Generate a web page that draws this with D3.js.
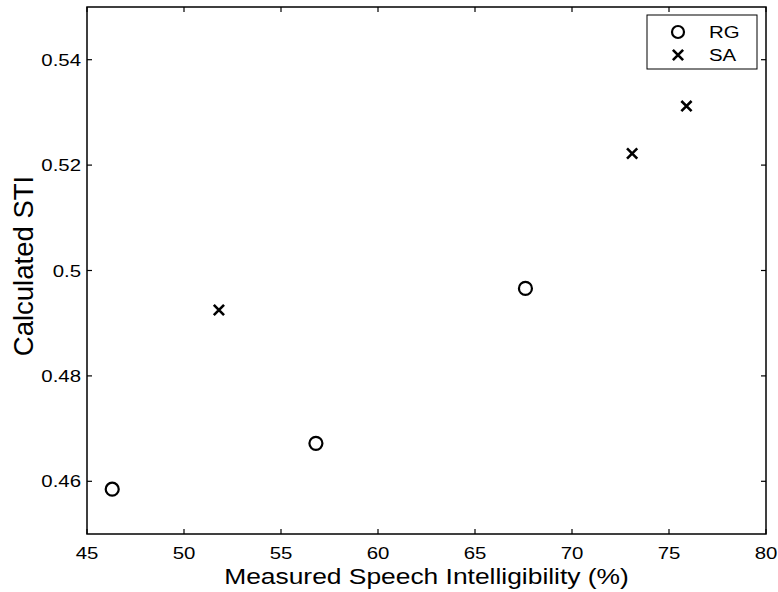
<!DOCTYPE html>
<html>
<head>
<meta charset="utf-8">
<script src="https://cdn.jsdelivr.net/npm/d3@7"></script>
<style>
  body { margin: 0; background: #fff; }
  text { font-family: "Liberation Sans", Arial, Helvetica, sans-serif; fill: #000; }
</style>
</head>
<body>
<div id="chart"></div>
<script>
// Data
const rgX = [46.3, 56.8, 67.6];
const rgY = [0.4585, 0.4672, 0.4966];
const saX = [51.8, 73.1, 75.9];
const saY = [0.4925, 0.5222, 0.5312];
const xTicks = [45, 50, 55, 60, 65, 70, 75, 80];
const yTicks = [0.46, 0.48, 0.5, 0.52, 0.54];
const yTickLabels = ['0.46', '0.48', '0.5', '0.52', '0.54'];

const width = 778, height = 592;
const margin = { top: 7, right: 12, bottom: 58, left: 87 };
const stretch = 1.2; // reference text looks horizontally widened

const svg = d3.select('#chart').append('svg')
    .attr('width', width)
    .attr('height', height);

const x = d3.scaleLinear().domain([45, 80]).range([margin.left, width - margin.right]);
const y = d3.scaleLinear().domain([0.45, 0.55]).range([height - margin.bottom, margin.top]);

const x0 = x.range()[0], x1 = x.range()[1];
const y0 = y.range()[0], y1 = y.range()[1];

// helper for horizontally stretched text
function label(g, tx, ty, str, size, anchor) {
    g.append('text')
        .attr('transform', `translate(${tx},${ty}) scale(${stretch},1)`)
        .attr('text-anchor', anchor)
        .style('font-size', size + 'px')
        .text(str);
}

// box
svg.append('rect')
    .attr('x', x0).attr('y', y1)
    .attr('width', x1 - x0).attr('height', y0 - y1)
    .attr('fill', 'none').attr('stroke', '#000').attr('stroke-width', 1.5);

const tickLen = 5;
const ticks = svg.append('g').attr('stroke', '#000').attr('stroke-width', 1.2);
xTicks.forEach(v => {
    ticks.append('line').attr('x1', x(v)).attr('x2', x(v)).attr('y1', y0).attr('y2', y0 - tickLen);
    ticks.append('line').attr('x1', x(v)).attr('x2', x(v)).attr('y1', y1).attr('y2', y1 + tickLen);
});
yTicks.forEach(v => {
    ticks.append('line').attr('x1', x0).attr('x2', x0 + tickLen).attr('y1', y(v)).attr('y2', y(v));
    ticks.append('line').attr('x1', x1).attr('x2', x1 - tickLen).attr('y1', y(v)).attr('y2', y(v));
});

const labels = svg.append('g');
xTicks.forEach(v => label(labels, x(v), y0 + 25, String(v), 17, 'middle'));
yTicks.forEach((v, i) => label(labels, x0 - 6, y(v) + 6, yTickLabels[i], 17, 'end'));

// axis titles
label(svg, (x0 + x1) / 2, 584, 'Measured Speech Intelligibility (%)', 22, 'middle');
svg.append('text')
    .attr('transform', `translate(33,266) rotate(-90)`)
    .attr('text-anchor', 'middle')
    .style('font-size', '27.5px')
    .text('Calculated STI');

// RG circles
svg.selectAll('.rg')
    .data(rgX.map((d, i) => [d, rgY[i]]))
    .enter().append('circle')
    .attr('class', 'rg')
    .attr('cx', d => x(d[0]))
    .attr('cy', d => y(d[1]))
    .attr('r', 6.5)
    .attr('fill', 'none')
    .attr('stroke', '#000')
    .attr('stroke-width', 2.2);

// SA crosses
const cross = d3.symbol().type(d3.symbolX).size(70);
svg.selectAll('.sa')
    .data(saX.map((d, i) => [d, saY[i]]))
    .enter().append('path')
    .attr('class', 'sa')
    .attr('d', cross)
    .attr('transform', d => `translate(${x(d[0])},${y(d[1])})`)
    .attr('fill', 'none')
    .attr('stroke', '#000')
    .attr('stroke-width', 2.6);

// legend
const lg = svg.append('g');
lg.append('rect')
    .attr('x', 647).attr('y', 15).attr('width', 110).attr('height', 54)
    .attr('fill', '#fff').attr('stroke', '#000').attr('stroke-width', 1);
lg.append('circle').attr('cx', 678).attr('cy', 32).attr('r', 6)
    .attr('fill', 'none').attr('stroke', '#000').attr('stroke-width', 2.2);
lg.append('path').attr('d', cross).attr('transform', 'translate(678,55)')
    .attr('fill', 'none').attr('stroke', '#000').attr('stroke-width', 2.6);
label(lg, 709, 38, 'RG', 17, 'start');
label(lg, 709, 61, 'SA', 17, 'start');
</script>
</body>
</html>
